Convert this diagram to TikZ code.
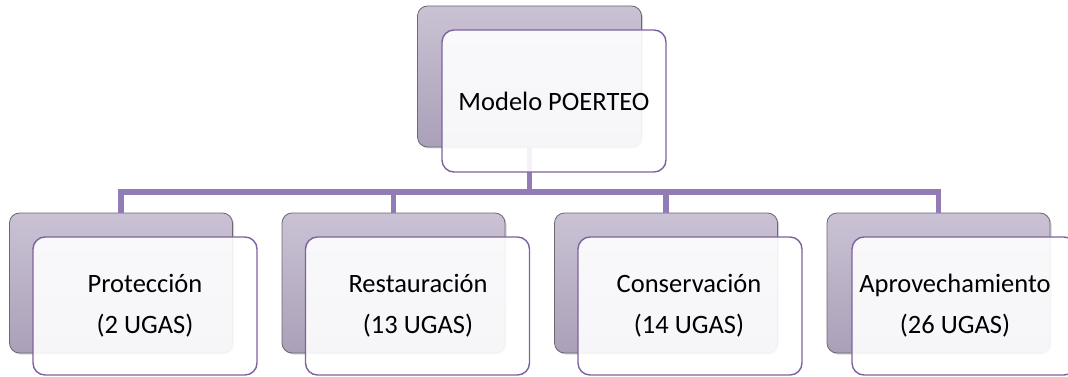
\documentclass[tikz,border=0pt]{standalone}
\usepackage{fontspec}
\setmainfont{Carlito}
\usetikzlibrary{shadows}
\definecolor{linep}{RGB}{146,124,181}
\definecolor{frontb}{RGB}{126,98,160}
\definecolor{backtop}{RGB}{202,194,212}
\definecolor{backbot}{RGB}{170,160,184}
\definecolor{backdraw}{RGB}{105,105,110}
\begin{document}
\begin{tikzpicture}[x=1pt,y=1pt,
  backbox/.style={draw=backdraw,line width=0.8pt,rounded corners=10pt,top color=backtop,bottom color=backbot,
    minimum width=223pt,minimum height=140pt,inner sep=0pt,
    drop shadow={shadow xshift=1.5pt,shadow yshift=-1.5pt,opacity=0.35}},
  frontbox/.style={draw=frontb,line width=1.4pt,rounded corners=12pt,fill=white,fill opacity=0.9,
    minimum width=224pt,minimum height=138pt,inner sep=0pt},
  conn/.style={draw=linep,line width=5.5pt,line join=miter},
  lbl/.style={font=\fontsize{26.5}{41}\selectfont,align=center,text=black,inner sep=0pt}]
\useasboundingbox (0,0) rectangle (1068,-377);
\clip (0,0) rectangle (1068,-377);
\fill[white] (0,0) rectangle (1068,-377);
\coordinate (bus) at (529.5,-192);
% back boxes
\node[backbox,minimum width=224pt,minimum height=141pt] (b0) at (529.5,-76.5) {};
\node[backbox] (b1) at (121,-283) {};
\node[backbox] (b2) at (393.5,-283) {};
\node[backbox] (b3) at (666,-283) {};
\node[backbox] (b4) at (938.5,-283) {};
% connectors
\draw[conn] (b0.south) -- (bus);
\draw[conn] (b1.north) |- (bus) -| (b4.north);
\draw[conn] (b2.north) -- (b2.north |- bus);
\draw[conn] (b3.north) -- (b3.north |- bus);
% front boxes
\node[frontbox,minimum height=142pt] (f0) at (554,-101) {};
\node[frontbox] (f1) at (145,-306) {};
\node[frontbox] (f2) at (417.5,-306) {};
\node[frontbox] (f3) at (690,-306) {};
\node[frontbox] (f4) at (964,-306) {};
% texts
\node[lbl] (t0) at (554,-101) {Modelo POERTEO};
\node[lbl] (t1) at (145,-306) {Protección\\(2 UGAS)};
\node[lbl] (t2) at (418,-306) {Restauración\\(13 UGAS)};
\node[lbl] (t3) at (689,-306) {Conservación\\(14 UGAS)};
\node[lbl] (t4) at (955,-306) {Aprovechamiento\\(26 UGAS)};
\end{tikzpicture}
\end{document}
